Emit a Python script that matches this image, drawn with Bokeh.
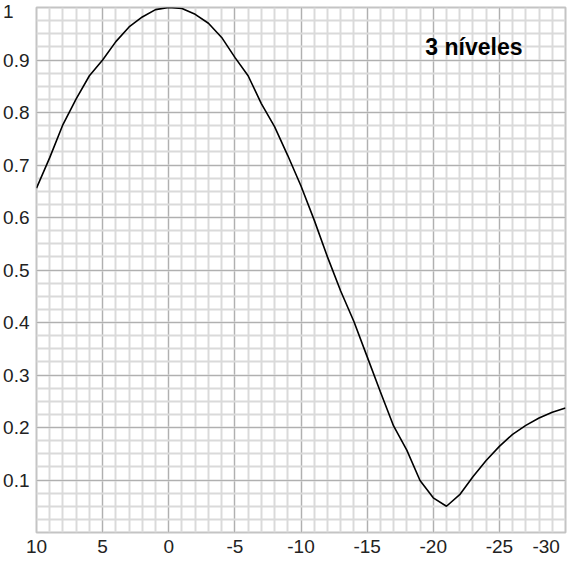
from bokeh.plotting import figure
from bokeh.models import Range1d, FixedTicker, Label
from bokeh.embed import file_html
from bokeh.resources import INLINE

# data
angle = [10, 9, 8, 7, 6, 5, 4, 3, 2, 1, 0, -1, -2, -3, -4, -5, -6, -7, -8, -9, -10,
         -11, -12, -13, -14, -15, -16, -17, -18, -19, -20, -21, -22, -23, -24, -25,
         -26, -27, -28, -29, -30]
gain = [0.656, 0.714, 0.777, 0.826, 0.870, 0.900, 0.935, 0.963, 0.982, 0.996, 1.0,
        0.998, 0.987, 0.970, 0.943, 0.905, 0.870, 0.817, 0.773, 0.718, 0.660,
        0.595, 0.525, 0.460, 0.402, 0.335, 0.268, 0.203, 0.157, 0.099, 0.066, 0.050,
        0.072, 0.106, 0.137, 0.164, 0.187, 0.204, 0.218, 0.229, 0.237]
x_ticks = [10, 5, 0, -5, -10, -15, -20, -25, -30]
x_labels = ["10", "5", "0", "-5", "-10", "-15", "-20", "-25", "-30\u2007"]
y_ticks = [0.1, 0.2, 0.3, 0.4, 0.5, 0.6, 0.7, 0.8, 0.9, 1.0]
y_labels = ["0.1", "0.2", "0.3", "0.4", "0.5", "0.6", "0.7", "0.8", "0.9", "1\u2008\u2007"]
label_text = "3 níveles"

p = figure(width=570, height=559, output_backend="svg", toolbar_location=None,
           x_range=Range1d(10, -30), y_range=Range1d(0, 1),
           min_border_left=35, min_border_top=7, min_border_right=5, min_border_bottom=24)
p.background_fill_color = "white"
p.border_fill_color = "white"
p.outline_line_color = "#c4c4c4"
p.outline_line_width = 2

p.xaxis.ticker = FixedTicker(ticks=x_ticks, minor_ticks=list(range(10, -31, -1)))
p.yaxis.ticker = FixedTicker(ticks=y_ticks, minor_ticks=[round(i * 0.025, 3) for i in range(41)])
p.xaxis.major_label_overrides = {t: s for t, s in zip(x_ticks, x_labels)}
p.yaxis.major_label_overrides = {t: s for t, s in zip(y_ticks, y_labels)}

for ax in (p.xaxis, p.yaxis):
    ax.axis_line_color = None
    ax.major_tick_line_color = None
    ax.minor_tick_line_color = None
    ax.major_tick_out = 0
    ax.major_tick_in = 0
    ax.minor_tick_out = 0
    ax.minor_tick_in = 0
    ax.major_label_text_font = "Liberation Sans"
    ax.major_label_text_font_size = "19px"
    ax.major_label_text_color = "#222222"
p.yaxis.major_label_standoff = 7
p.xaxis.major_label_standoff = 3

for g in (p.xgrid, p.ygrid):
    g.grid_line_color = "#b0b0b0"
    g.grid_line_width = 1
    g.minor_grid_line_color = "#dadada"
    g.minor_grid_line_width = 2

p.line(angle, gain, line_color="black", line_width=1.6)

p.add_layout(Label(x=-19.4, y=0.924, text=label_text, text_font="Liberation Sans",
                   text_font_style="bold", text_font_size="23px", text_color="black",
                   text_align="left", text_baseline="alphabetic"))

open("out.html", "w").write(file_html(p, INLINE))
